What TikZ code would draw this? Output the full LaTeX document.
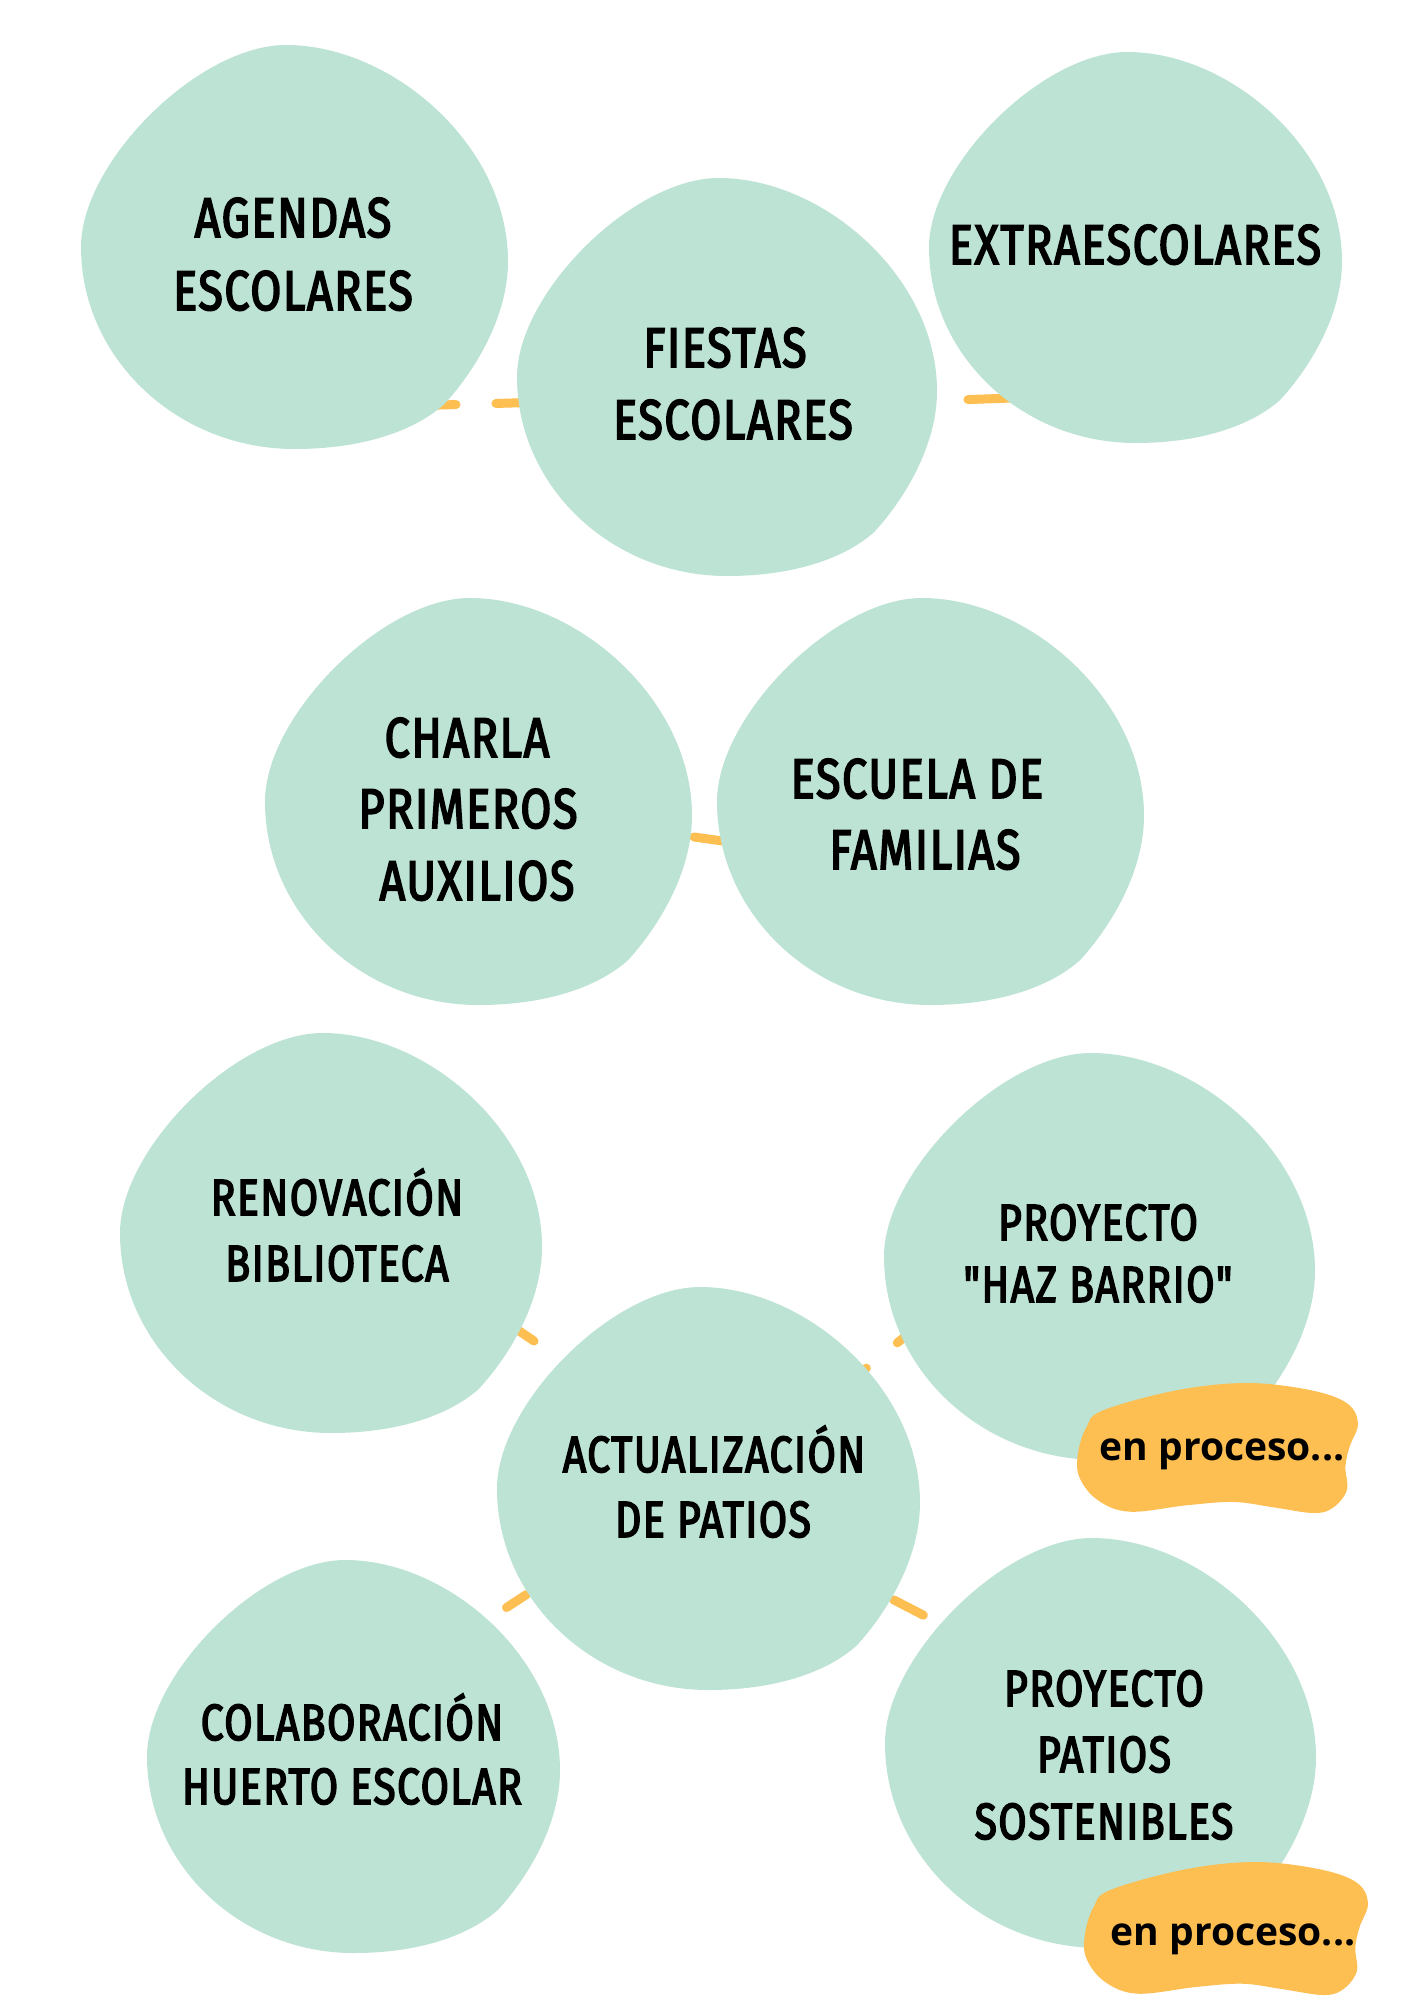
\documentclass[tikz,border=0pt]{standalone}
\usepackage{fontspec}
\newfontfamily\capsfont{Fira Sans}[FakeStretch=0.8,FakeBold=3,LetterSpace=3]
\newfontfamily\tagfont{Open Sans}
\definecolor{blobgreen}{RGB}{189,227,213}
\definecolor{blobgold}{RGB}{253,190,82}
\tikzset{
  big/.style={font=\capsfont\fontsize{56}{66}\selectfont, anchor=base, inner sep=0pt},
  small/.style={font=\capsfont\fontsize{51}{60}\selectfont, anchor=base, inner sep=0pt},
  tagtext/.style={font=\tagfont\bfseries\fontsize{39}{46}\selectfont, anchor=base, inner sep=0pt},
  conn/.style={draw=blobgold, line width=9pt, line cap=round, dash pattern=on 52pt off 40pt},
}
\newcommand\greenblob[4]{%
  \fill[blobgreen, shift={(#1,#2)}, xscale=#3, yscale=#4]
    (-0.04,-1) .. controls (0.46,-1) and (1,-0.5) .. (1,0.07)
    .. controls (1,0.35) and (0.84,0.62) .. (0.70,0.78)
    .. controls (0.55,0.92) and (0.3,1) .. (0,1)
    .. controls (-0.55,1) and (-1,0.55) .. (-1,0)
    .. controls (-1,-0.42) and (-0.45,-1) .. (-0.04,-1) -- cycle;}
\newcommand\goldblob[4]{%
  \fill[blobgold, shift={(#1,#2)}, xscale=#3, yscale=#4]
    plot[smooth cycle, tension=0.6] coordinates {(-0.82,-0.58) (-0.29,-0.89) (0.21,-1.0) (0.66,-0.89) (0.92,-0.69) (1.0,-0.38) (0.94,-0.02) (0.91,0.29) (0.92,0.65) (0.82,0.92) (0.68,1.0) (0.39,0.91) (0.11,0.83) (-0.22,0.88) (-0.63,0.98) (-0.86,0.8) (-0.99,0.45) (-1.0,0.08) (-0.94,-0.32)};}
\begin{document}
\begin{tikzpicture}[x=1pt,y=-1pt]
\useasboundingbox (0,0) rectangle (1414,1999);
\fill[white] (0,0) rectangle (1414,1999);
% connector end points
\coordinate (agendas-e) at (404,406);
\coordinate (fiestas-w) at (548,402);
\coordinate (fiestas-e) at (928,401);
\coordinate (extra-w) at (1012,398);
\coordinate (charla-e) at (694,837);
\coordinate (escuela-w) at (730,842);
\coordinate (renov-se) at (500,1318);
\coordinate (actual-nw) at (534,1341);
\coordinate (actual-ne) at (826,1401);
\coordinate (haz-sw) at (940,1308);
\coordinate (actual-sw) at (526.5,1594.5);
\coordinate (colab-ne) at (506.5,1607.5);
\coordinate (actual-se) at (893.6,1599.8);
\coordinate (patios-nw) at (923.4,1615.2);
% connectors
\draw[conn] (agendas-e) -- (fiestas-w);
\draw[conn, dash phase=52pt] (fiestas-e) -- (extra-w);
\draw[conn] (charla-e) -- (escuela-w);
\draw[conn] (renov-se) -- (actual-nw);
\draw[conn] (actual-ne) -- (haz-sw);
\draw[conn] (actual-sw) -- (colab-ne);
\draw[conn] (actual-se) -- (patios-nw);
% green blobs
\greenblob{294.5}{247}{213.5}{202}
\greenblob{727}{377}{210}{199}
\greenblob{1135.5}{247.5}{206.5}{195.5}
\greenblob{478.5}{801.5}{213.5}{203.5}
\greenblob{930.5}{801.5}{213.5}{203.5}
\greenblob{331}{1233}{211}{200}
\greenblob{1099.5}{1256.5}{215.5}{203.5}
\greenblob{708.5}{1488.5}{211.5}{201.5}
\greenblob{353.5}{1756.5}{206.5}{196.5}
\greenblob{1100.5}{1743}{215.5}{205}
% texts
\node[big] (agendas) at (293,237) {AGENDAS};
\node[big] (agendas2) at (293,310) {ESCOLARES};
\node[big] (fiestas) at (725,367) {FIESTAS};
\node[big] (fiestas2) at (733,439) {ESCOLARES};
\node[big] (extra) at (1135,264) {EXTRAESCOLARES};
\node[big] (charla) at (467,757) {CHARLA};
\node[big] (charla2) at (468,828) {PRIMEROS};
\node[big] (charla3) at (477,900) {AUXILIOS};
\node[big] (escuela) at (917,798) {ESCUELA DE};
\node[big] (escuela2) at (925,869) {FAMILIAS};
\node[small] (renov) at (337,1215) {RENOVACIÓN};
\node[small] (renov2) at (337,1281) {BIBLIOTECA};
\node[small] (haz) at (1098,1240) {PROYECTO};
\node[small] (haz2) at (1098,1302) {"HAZ BARRIO"};
\node[small] (actual) at (714,1472) {ACTUALIZACIÓN};
\node[small] (actual2) at (713,1537) {DE PATIOS};
\node[small] (colab) at (352,1740) {COLABORACIÓN};
\node[small] (colab2) at (352,1804) {HUERTO ESCOLAR};
\node[small] (patios) at (1104,1706) {PROYECTO};
\node[small] (patios2) at (1104,1772) {PATIOS};
\node[small] (patios3) at (1104,1839) {SOSTENIBLES};
% status tags
\goldblob{1218}{1448}{140}{65}
\goldblob{1226.5}{1928.5}{141.5}{66.5}
\node[tagtext] (tag1) at (1222,1460) {en proceso...};
\node[tagtext] (tag2) at (1233,1945) {en proceso...};
\end{tikzpicture}
\end{document}
